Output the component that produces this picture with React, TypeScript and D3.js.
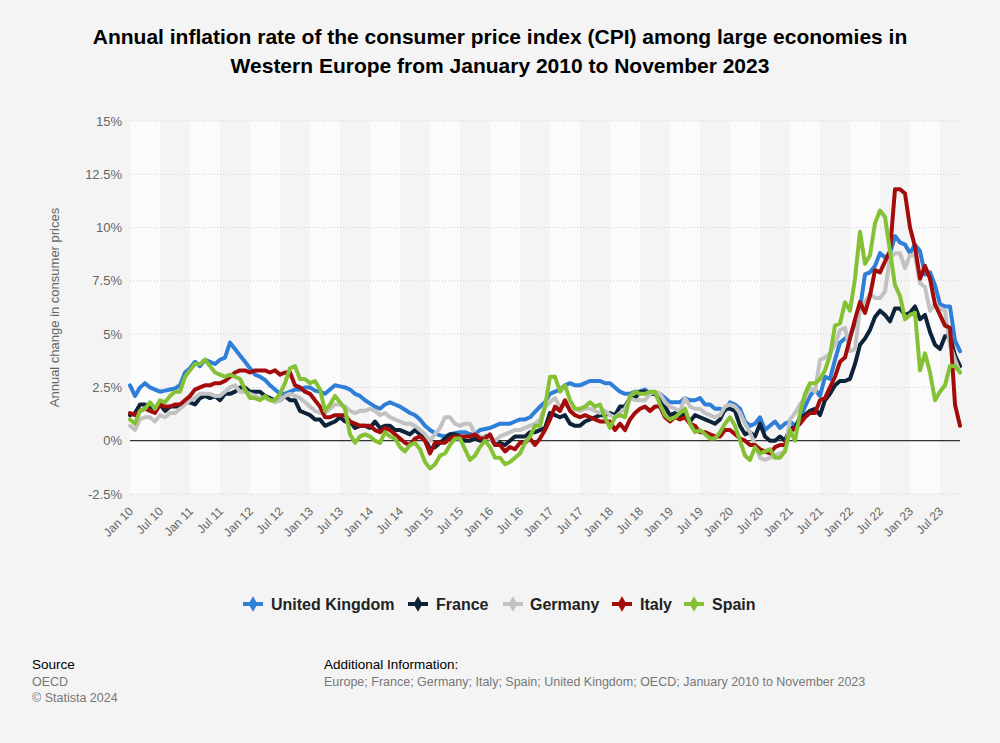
import React from 'react';
import * as d3 from 'd3';

const title1 = 'Annual inflation rate of the consumer price index (CPI) among large economies in';
const title2 = 'Western Europe from January 2010 to November 2023';
const yTitle = 'Annual change in consumer prices';

const startYear = 2010;
const monthCount = 167; // Jan 2010 .. Nov 2023

const yTicks = [-2.5, 0, 2.5, 5, 7.5, 10, 12.5, 15];
const yTickLabels = ['-2.5%', '0%', '2.5%', '5%', '7.5%', '10%', '12.5%', '15%'];

const unitedKingdom = [
  2.6, 2.1, 2.5, 2.7, 2.5, 2.4, 2.3, 2.35, 2.4, 2.45, 2.6, 3.2,
  3.4, 3.7, 3.5, 3.8, 3.7, 3.6, 3.8, 3.9, 4.6, 4.3, 4.0, 3.7,
  3.4, 3.1, 3.0, 2.85, 2.6, 2.4, 2.2, 2.2, 2.3, 2.4, 2.4, 2.5,
  2.5, 2.35, 2.3, 2.2, 2.4, 2.6, 2.55, 2.5, 2.4, 2.2, 2.1, 1.9,
  1.75, 1.6, 1.5, 1.7, 1.8, 1.7, 1.6, 1.45, 1.3, 1.2, 1.0, 0.7,
  0.5, 0.35, 0.25, 0.2, 0.3, 0.35, 0.4, 0.4, 0.3, 0.3, 0.5, 0.55,
  0.6, 0.7, 0.8, 0.8, 0.8, 0.9, 1.0, 1.0, 1.1, 1.35, 1.6, 1.8,
  2.2, 2.3, 2.4, 2.6, 2.7, 2.6, 2.6, 2.7, 2.8, 2.8, 2.8, 2.7,
  2.7, 2.5, 2.3, 2.2, 2.2, 2.3, 2.3, 2.4, 2.2, 2.2, 2.2, 2.0,
  1.8, 1.8, 1.8, 2.0, 1.9, 1.9, 2.0, 1.7, 1.7, 1.5, 1.5, 1.4,
  1.8, 1.7, 1.5, 0.9, 0.7, 0.8, 1.1, 0.5, 0.7, 0.9, 0.6, 0.8,
  0.9, 0.7, 1.0, 1.6, 2.1, 2.4, 2.1, 3.0, 2.9, 3.8, 4.6, 4.8,
  4.9, 5.5, 6.2, 7.8, 7.9, 8.2, 8.8, 8.6, 8.8, 9.6, 9.3, 9.2,
  8.8, 9.2, 8.9, 7.8, 7.9, 7.3, 6.4, 6.3, 6.3, 4.7, 4.2,
];

const france = [
  1.2, 1.3, 1.7, 1.7, 1.6, 1.5, 1.7, 1.4, 1.6, 1.6, 1.6, 1.8,
  1.8, 1.7, 2.0, 2.1, 2.0, 2.1, 1.9, 2.2, 2.2, 2.3, 2.5, 2.5,
  2.3, 2.3, 2.3, 2.1, 2.0, 1.9, 1.9, 2.1, 1.9, 1.9, 1.4, 1.3,
  1.2, 1.0, 1.0, 0.7, 0.8, 0.9, 1.1, 0.9, 0.9, 0.6, 0.7, 0.7,
  0.6, 0.9, 0.6, 0.7, 0.7, 0.5, 0.5, 0.4, 0.3, 0.5, 0.3, 0.1,
  -0.4, -0.3, -0.1, 0.1, 0.3, 0.3, 0.2, 0.0, 0.0, 0.1, 0.0, 0.2,
  0.2, -0.2, -0.1, -0.2, 0.0, 0.2, 0.2, 0.2, 0.4, 0.4, 0.5, 0.6,
  1.3, 1.2, 1.1, 1.2, 0.8, 0.7, 0.7, 0.9, 1.0, 1.1, 1.2, 1.2,
  1.3, 1.2, 1.6, 1.6, 2.0, 2.0, 2.3, 2.3, 2.2, 2.2, 1.9, 1.6,
  1.2, 1.3, 1.1, 1.3, 0.9, 1.2, 1.1, 1.0, 0.9, 0.8, 1.0, 1.5,
  1.5, 1.4, 0.7, 0.3, 0.4, 0.2, 0.8, 0.2, 0.0, 0.0, 0.2, 0.0,
  0.6, 0.6, 1.1, 1.2, 1.4, 1.5, 1.2, 1.9, 2.2, 2.6, 2.8, 2.8,
  2.9, 3.6, 4.5, 4.8, 5.2, 5.8, 6.1, 5.9, 5.6, 6.2, 6.2, 5.9,
  6.0, 6.3, 5.7, 5.9, 5.1, 4.5, 4.3, 4.9, 4.9, 4.0, 3.5,
];

const germany = [
  0.7, 0.5, 1.0, 1.1, 1.1, 0.9, 1.2, 1.1, 1.3, 1.3, 1.5, 1.7,
  1.9, 2.0, 2.2, 2.2, 2.2, 2.1, 2.1, 2.3, 2.5, 2.6, 2.3, 2.3,
  2.2, 2.1, 2.0, 2.0, 1.9, 1.8, 1.9, 2.1, 2.2, 2.1, 2.0, 1.8,
  1.6, 1.4, 1.3, 1.3, 1.5, 1.7, 1.7, 1.6, 1.4, 1.3, 1.4, 1.4,
  1.5, 1.4, 1.2, 1.3, 1.1, 1.0, 0.9, 0.8, 0.8, 0.7, 0.5, 0.3,
  0.0, 0.3, 0.6, 1.1, 1.1, 0.8, 0.7, 0.8, 0.8, 0.3, 0.2, 0.15,
  0.1, 0.0, 0.2, 0.3, 0.4, 0.5, 0.5, 0.6, 0.7, 0.8, 1.0, 1.6,
  1.8, 2.0, 1.6, 1.7, 1.5, 1.5, 1.4, 1.5, 1.5, 1.4, 1.3, 1.4,
  1.2, 1.1, 1.3, 1.5, 2.0, 1.9, 1.9, 1.9, 2.2, 2.3, 2.2, 1.8,
  1.6, 1.5, 1.4, 2.0, 1.6, 1.5, 1.5, 1.3, 1.2, 1.1, 1.2, 1.6,
  1.7, 1.6, 1.3, 0.8, 0.4, -0.2, -0.8, -0.9, -0.8, -0.7, -0.6, -0.5,
  1.0, 1.3, 1.7, 2.0, 2.5, 2.3, 3.8, 3.9, 4.1, 4.5, 5.2, 5.3,
  4.2, 4.3, 6.2, 6.5, 6.9, 6.7, 6.7, 7.0, 8.6, 8.8, 8.8, 8.1,
  8.7, 8.7, 7.4, 7.2, 6.1, 6.4, 6.2, 6.1, 4.5, 3.8, 3.2,
];

const italy = [
  1.3, 1.2, 1.4, 1.5, 1.4, 1.3, 1.7, 1.6, 1.6, 1.7, 1.7, 1.9,
  2.1, 2.4, 2.5, 2.6, 2.6, 2.7, 2.7, 2.8, 3.0, 3.2, 3.3, 3.3,
  3.2, 3.3, 3.3, 3.3, 3.2, 3.3, 3.1, 3.2, 3.2, 2.6, 2.5, 2.3,
  2.2, 1.9, 1.6, 1.1, 1.1, 1.2, 1.2, 1.2, 0.9, 0.8, 0.7, 0.7,
  0.7, 0.5, 0.4, 0.6, 0.5, 0.3, 0.1, -0.1, -0.2, 0.1, 0.2, 0.0,
  -0.6, -0.1, -0.1, -0.1, 0.1, 0.2, 0.2, 0.2, 0.2, 0.3, 0.1, 0.1,
  0.3, -0.2, -0.2, -0.5, -0.3, -0.4, -0.1, -0.1, 0.1, -0.2, 0.1, 0.5,
  1.0, 1.6, 1.4, 1.9, 1.4, 1.2, 1.1, 1.2, 1.1, 1.0, 0.9, 0.9,
  0.9, 0.5, 0.8, 0.5, 1.0, 1.3, 1.5, 1.6, 1.4, 1.6, 1.6, 1.1,
  0.9, 1.1, 1.0, 1.1, 0.8, 0.7, 0.4, 0.4, 0.3, 0.2, 0.2, 0.5,
  0.5, 0.3, 0.1, 0.0, -0.2, -0.2, -0.4, -0.5, -0.6, -0.3, -0.2, -0.2,
  0.4, 0.6, 0.8, 1.1, 1.3, 1.3, 1.9, 2.0, 2.5, 3.0, 3.7, 3.9,
  4.8, 5.7, 6.5, 6.0, 6.8, 8.0, 7.9, 8.4, 8.9, 11.8, 11.8, 11.6,
  10.0, 9.1, 7.6, 8.2, 7.6, 6.4, 5.9, 5.4, 5.3, 1.7, 0.7,
];

const spain = [
  1.0, 0.8, 1.4, 1.5, 1.8, 1.5, 1.9, 1.8, 2.1, 2.3, 2.3, 3.0,
  3.3, 3.6, 3.6, 3.8, 3.5, 3.2, 3.1, 3.0, 3.1, 3.0, 2.9, 2.4,
  2.0, 2.0, 1.9, 2.1, 1.9, 1.9, 2.2, 2.7, 3.4, 3.5, 2.9, 2.9,
  2.7, 2.8, 2.4, 1.4, 1.7, 2.1, 1.8, 1.5, 0.3, -0.1, 0.2, 0.3,
  0.2, 0.0, -0.1, 0.4, 0.2, 0.1, -0.3, -0.5, -0.2, -0.1, -0.4, -1.0,
  -1.3, -1.1, -0.7, -0.6, -0.2, 0.1, 0.1, -0.4, -0.9, -0.7, -0.3, 0.0,
  -0.3, -0.8, -0.8, -1.1, -1.0, -0.8, -0.6, -0.1, 0.2, 0.7, 0.7, 1.6,
  3.0, 3.0, 2.3, 2.6, 1.9, 1.5, 1.5, 1.6, 1.8, 1.6, 1.7, 1.1,
  0.6, 1.1, 1.2, 1.1, 2.1, 2.3, 2.2, 2.2, 2.3, 2.3, 1.7, 1.2,
  1.0, 1.1, 1.3, 1.5, 0.8, 0.4, 0.5, 0.3, 0.1, 0.1, 0.4, 0.8,
  1.1, 0.7, 0.0, -0.7, -0.9, -0.3, -0.6, -0.5, -0.4, -0.8, -0.8, -0.5,
  0.5, 0.0, 1.3, 2.2, 2.7, 2.7, 2.9, 3.3, 4.0, 5.4, 5.5, 6.5,
  6.1, 7.6, 9.8, 8.3, 8.7, 10.2, 10.8, 10.5, 8.9, 7.3, 6.8, 5.7,
  5.9, 6.0, 3.3, 4.1, 3.2, 1.9, 2.3, 2.6, 3.5, 3.5, 3.2,
];

const seriesNames = ['United Kingdom', 'France', 'Germany', 'Italy', 'Spain'];
const seriesColors = ['#2f7ed8', '#0d233a', '#c2c2c2', '#a40c0c', '#84c134'];
const seriesValues = [unitedKingdom, france, germany, italy, spain];

const monthShort = ['Jan', 'Jul'];

export default function App() {
  const W = 1000;
  const H = 743;
  const left = 130;
  const right = 960;
  const top = 121;
  const bottom = 494;

  const x = d3.scaleLinear().domain([0, monthCount - 1]).range([left, right]);
  const y = d3.scaleLinear().domain([-2.5, 15]).range([bottom, top]);

  const tickIdx = d3.range(0, monthCount, 6);
  const tickLabel = (i: number) =>
    `${monthShort[(i % 12) / 6]} ${String((startYear + Math.floor(i / 12)) % 100).padStart(2, '0')}`;

  const bands: [number, number][] = [];
  tickIdx.forEach((t, k) => {
    const next = tickIdx[k + 1];
    if (k % 2 === 0 && next !== undefined) bands.push([t, next]);
  });

  const line = d3
    .line<number>()
    .x((_, i) => x(i))
    .y((d) => y(d))
    .curve(d3.curveLinear);

  const legendItems = [
    { name: seriesNames[0], mx: 253, tx: 271 },
    { name: seriesNames[1], mx: 418, tx: 436 },
    { name: seriesNames[2], mx: 513, tx: 530 },
    { name: seriesNames[3], mx: 622, tx: 640 },
    { name: seriesNames[4], mx: 694, tx: 712 },
  ];

  const font = '"Liberation Sans", Arial, Helvetica, sans-serif';

  return (
    <div style={{ position: 'absolute', left: 0, top: 0, width: W, height: H }}>
      <svg width={W} height={H} style={{ display: 'block', fontFamily: font }}>
        <rect x={0} y={0} width={W} height={H} fill="#f4f4f4" />
        <text x={500} y={44} textAnchor="middle" fontSize={21} fontWeight="bold" fill="#000">
          {title1}
        </text>
        <text x={500} y={73} textAnchor="middle" fontSize={21} fontWeight="bold" fill="#000">
          {title2}
        </text>

        {bands.map(([a, b], k) => (
          <rect key={k} x={x(a)} y={top} width={x(b) - x(a)} height={bottom - top} fill="#fbfbfb" />
        ))}

        {yTicks.map((t, k) =>
          t === 0 ? null : (
            <line
              key={k}
              x1={left}
              x2={right}
              y1={y(t)}
              y2={y(t)}
              stroke="#cfcfcf"
              strokeWidth={1}
              strokeDasharray="1,2"
            />
          )
        )}
        {yTicks.map((t, k) => (
          <text key={k} x={122} y={y(t) + 4.5} textAnchor="end" fontSize={13} fill="#666">
            {yTickLabels[k]}
          </text>
        ))}
        <text
          transform={`translate(59,${(top + bottom) / 2}) rotate(-90)`}
          textAnchor="middle"
          fontSize={13}
          fill="#666"
        >
          {yTitle}
        </text>

        {tickIdx.map((i) => (
          <text
            key={i}
            transform={`translate(${x(i) + 4},${bottom + 18}) rotate(-45)`}
            textAnchor="end"
            fontSize={12}
            fill="#666"
          >
            {tickLabel(i)}
          </text>
        ))}

        <line x1={left} x2={right} y1={y(0)} y2={y(0)} stroke="#333" strokeWidth={1.3} />

        {seriesValues.map((vals, k) => (
          <path
            key={k}
            d={line(vals) || ''}
            fill="none"
            stroke={seriesColors[k]}
            strokeWidth={4}
            strokeLinejoin="round"
            strokeLinecap="round"
          />
        ))}

        {legendItems.map((it, k) => (
          <g key={k}>
            <line x1={it.mx - 10} x2={it.mx + 10} y1={604} y2={604} stroke={seriesColors[k]} strokeWidth={4} />
            <path
              d={d3.symbol().type(d3.symbolDiamond).size(70)() || ''}
              transform={`translate(${it.mx},604)`}
              fill={seriesColors[k]}
            />
            <text x={it.tx} y={609.5} fontSize={16} fontWeight="bold" fill="#222">
              {it.name}
            </text>
          </g>
        ))}

        <text x={32} y={669} fontSize={13.5} fill="#000">Source</text>
        <text x={32} y={686} fontSize={12.5} fill="#777">OECD</text>
        <text x={32} y={702} fontSize={12.5} fill="#777">© Statista 2024</text>
        <text x={324} y={669} fontSize={13.5} fill="#000">Additional Information:</text>
        <text x={324} y={686} fontSize={12.5} fill="#777">
          Europe; France; Germany; Italy; Spain; United Kingdom; OECD; January 2010 to November 2023
        </text>
      </svg>
    </div>
  );
}
